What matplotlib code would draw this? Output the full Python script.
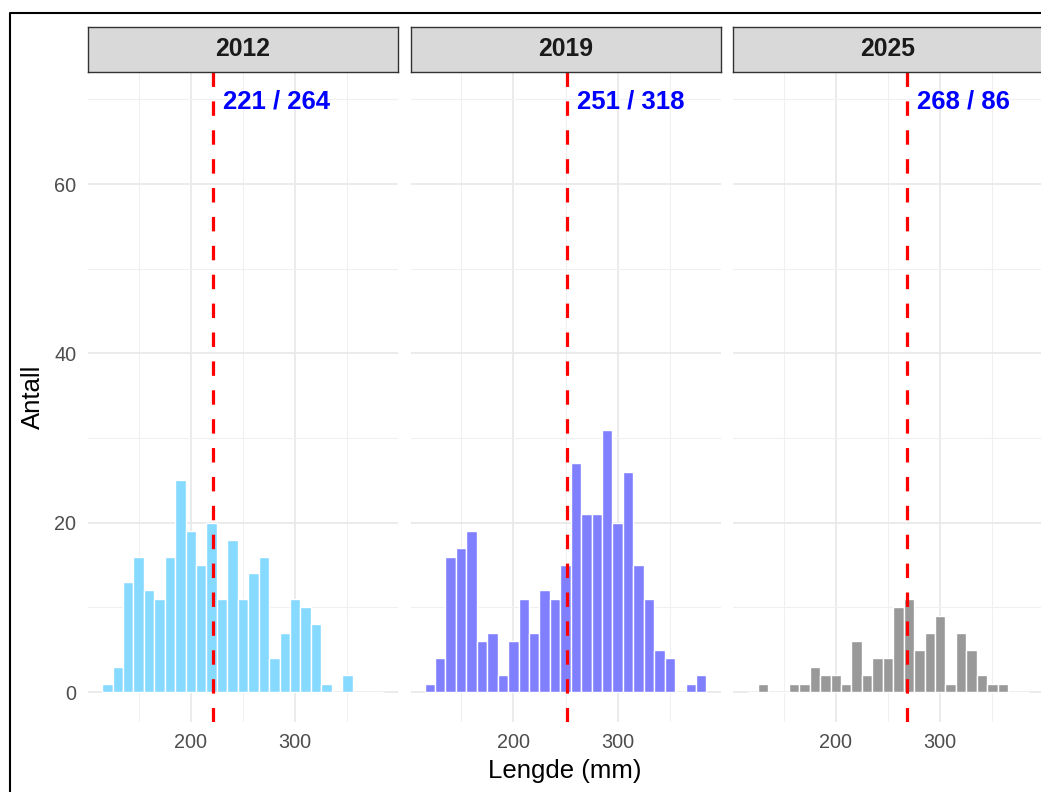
import matplotlib
matplotlib.use('agg')
import matplotlib.pyplot as plt
from matplotlib.lines import Line2D
import numpy as np

plt.rcParams['font.family'] = ['Liberation Sans', 'DejaVu Sans']
plt.rcParams['lines.scale_dashes'] = False

# length bins (centres, 10 mm wide) shared by all years
bin_centres = list(range(120, 390, 10))

years = ['2012', '2019', '2025']
counts_2012 = [1, 3, 13, 16, 12, 11, 16, 25, 19, 15, 20, 11, 18, 11, 14, 16, 4, 7, 11, 10, 8, 1, 0, 2, 0, 0, 0]
counts_2019 = [1, 4, 16, 17, 19, 6, 7, 2, 6, 11, 7, 12, 11, 15, 27, 21, 21, 31, 20, 26, 15, 11, 5, 4, 0, 1, 2]
counts_2025 = [0, 1, 0, 0, 1, 1, 3, 2, 2, 1, 6, 2, 4, 4, 10, 11, 5, 7, 9, 1, 7, 5, 2, 1, 1, 0, 0]
mean_length = [221, 251, 268]
bar_colours = ['#86D9FF', '#8080FF', '#999999']

x_ticks = [200, 300]
y_ticks = [0, 20, 40, 60]

W, H = 1041, 792
fig = plt.figure(figsize=(W / 100, H / 100), dpi=100)

panel_left = [88, 410.5, 733]
panel_w = 310
panel_top, panel_bot = 72, 722
strip_top = 27

all_counts = [counts_2012, counts_2019, counts_2025]

for i, year in enumerate(years):
    l = panel_left[i]
    ax = fig.add_axes([l / W, 1 - panel_bot / H, panel_w / W, (panel_bot - panel_top) / H])
    counts = all_counts[i]
    n = int(np.sum(counts))

    ax.bar(bin_centres, counts, width=10, color=bar_colours[i], edgecolor='white',
           linewidth=1.0, zorder=2)
    ax.axvline(mean_length[i], color='red', lw=2.3, linestyle=(0, (10.4, 10.4)),
               dash_capstyle='butt', zorder=3)
    ax.text(mean_length[i] + 10, 69.7, f'{mean_length[i]} / {n}', color='blue',
            fontsize=18.5, fontweight='bold', ha='left', va='center', zorder=4)

    ax.set_xlim(101.5, 398.5)
    ax.set_ylim(-3.54, 73.23)
    ax.set_xticks(x_ticks)
    ax.set_xticks([150, 250, 350], minor=True)
    ax.set_yticks(y_ticks)
    ax.set_yticks([10, 30, 50, 70], minor=True)
    ax.grid(which='major', color='#E8E8E8', lw=1.2, zorder=0)
    ax.grid(which='minor', color='#F0F0F0', lw=0.8, zorder=0)
    ax.set_axisbelow(True)
    for s in ax.spines.values():
        s.set_visible(False)
    ax.tick_params(which='both', length=0, labelsize=14.3, labelcolor='#4D4D4D')
    ax.tick_params(axis='x', pad=8)
    ax.tick_params(axis='y', pad=8.5)
    if i > 0:
        ax.set_yticklabels([])

    # facet strip
    sax = fig.add_axes([l / W, 1 - panel_top / H, panel_w / W, (panel_top - strip_top) / H])
    sax.set_facecolor('#D9D9D9')
    sax.set_xticks([])
    sax.set_yticks([])
    for s in sax.spines.values():
        s.set_color('#333333')
        s.set_linewidth(1.0)
    sax.text(0.5, 0.5, year, transform=sax.transAxes, ha='center', va='center',
             fontsize=17.8, fontweight='bold', color='#1A1A1A')

fig.text(565 / W, 1 - 771 / H, 'Lengde (mm)', ha='center', va='center', fontsize=18.5)
fig.text(33 / W, 1 - 397 / H, 'Antall', ha='center', va='center', rotation=90, fontsize=18.5)

# outer frame
fig.add_artist(Line2D([10 / W, 10 / W, 1.01], [-0.01, 1 - 13 / H, 1 - 13 / H],
                      transform=fig.transFigure, color='black', lw=1.5))

fig.savefig('out.png', dpi=100)
